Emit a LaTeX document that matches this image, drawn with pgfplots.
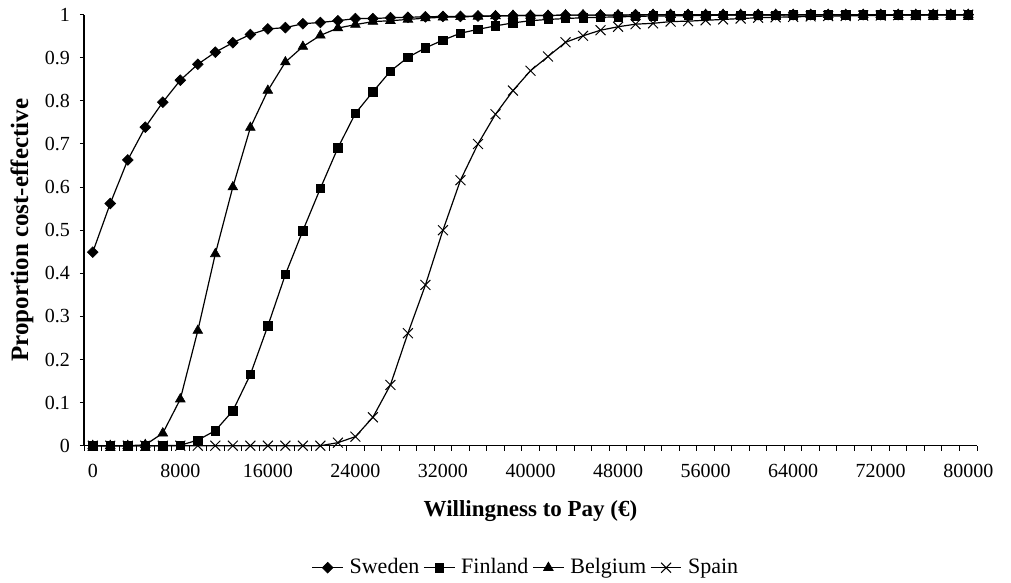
\documentclass[border=0pt]{standalone}
\usepackage{fontspec}
\setmainfont{Liberation Serif}
\usepackage{pgfplots}
\pgfplotsset{compat=1.18}
\usepackage{pgfplotstable}

% Cost-effectiveness acceptability curves, one column per country
\pgfplotstableread{
x sweden finland belgium spain
0 0.449 0 0 0
1600 0.562 0 0 0
3200 0.663 0 0 0
4800 0.739 0 0.002 0
6400 0.797 0 0.029 0
8000 0.848 0.001 0.108 0
9600 0.885 0.013 0.267 0
11200 0.913 0.035 0.445 0
12800 0.935 0.081 0.600 0
14400 0.954 0.165 0.738 0
16000 0.967 0.278 0.824 0
17600 0.970 0.397 0.890 0
19200 0.979 0.499 0.926 0
20800 0.982 0.597 0.952 0
22400 0.986 0.691 0.969 0.007
24000 0.991 0.771 0.977 0.021
25600 0.991 0.821 0.984 0.066
27200 0.993 0.869 0.986 0.141
28800 0.994 0.901 0.989 0.261
30400 0.995 0.923 0.992 0.373
32000 0.996 0.941 0.994 0.500
33600 0.996 0.957 0.995 0.616
35200 0.997 0.966 0.996 0.700
36800 0.997 0.974 0.997 0.769
38400 0.998 0.981 0.998 0.824
40000 0.998 0.986 0.998 0.870
41600 0.998 0.989 0.998 0.903
43200 0.999 0.991 0.999 0.936
44800 0.999 0.993 0.999 0.951
46400 0.999 0.994 0.999 0.964
48000 0.999 0.995 0.999 0.972
49600 1 0.996 0.999 0.978
51200 1 0.997 1 0.980
52800 1 0.997 1 0.984
54400 1 0.998 1 0.985
56000 1 0.998 1 0.987
57600 1 0.999 1 0.989
59200 1 0.999 1 0.991
60800 1 0.999 1 0.993
62400 1 0.999 1 0.994
64000 1 1 1 0.995
65600 1 1 1 0.996
67200 1 1 1 0.997
68800 1 1 1 0.997
70400 1 1 1 0.998
72000 1 1 1 0.998
73600 1 1 1 0.999
75200 1 1 1 0.999
76800 1 1 1 1
78400 1 1 1 1
80000 1 1 1 1
}\ceac

\pgfplotsset{
  swe/.style={black, line width=0.6pt, mark=square*, mark size=1.9pt,
    mark options={solid, rotate=45, line width=0.3pt}},
  fin/.style={black, line width=0.6pt, mark=square*, mark size=2.1pt,
    mark options={solid, line width=0.3pt}},
  bel/.style={black, line width=0.6pt, mark=triangle*, mark size=2.8pt,
    mark options={solid, line width=0.3pt}},
  spa/.style={black, line width=0.6pt, mark=x, mark size=3.5pt,
    mark options={solid, line width=0.5pt}},
}

\begin{document}
\begin{tikzpicture}
\begin{axis}[
  name=ax,
  scale only axis,
  width=446.5pt, height=215.5pt,
  xmin=-800, xmax=80800, ymin=0, ymax=1,
  clip=false,
  axis lines=left,
  axis line style={-, line width=0.6pt},
  tick align=outside,
  major tick length=2pt,
  minor tick length=2.5pt,
  scaled x ticks=false,
  xtick={0,8000,16000,24000,32000,40000,48000,56000,64000,72000,80000},
  xticklabels={0,8000,16000,24000,32000,40000,48000,56000,64000,72000,80000},
  minor xtick={-800,800,...,80800},
  every major x tick/.append style={draw=none},
  ytick={0,0.1,0.2,0.3,0.4,0.5,0.6,0.7,0.8,0.9,1},
  yticklabels={0,0.1,0.2,0.3,0.4,0.5,0.6,0.7,0.8,0.9,1},
  tick style={black, line width=0.5pt},
  tick label style={font=\fontsize{10}{12}\selectfont},
  xticklabel style={yshift=-3.5pt},
  yticklabel style={xshift=-1.5pt},
  xlabel={Willingness to Pay (€)},
  ylabel={Proportion cost-effective},
  label style={font=\fontsize{12.5}{15}\selectfont\bfseries},
  xlabel style={at={(axis description cs:0.5,0)}, anchor=center, yshift=-32.5pt,
    font=\fontsize{11.5}{14}\selectfont\bfseries},
  ylabel style={at={(axis description cs:0,0.5)}, anchor=center, yshift=31pt},
  legend columns=4,
  legend style={draw=none, fill=none, at={(axis description cs:0.496,0)},
    anchor=center, yshift=-61pt, font=\fontsize{11}{14}\selectfont,
    /tikz/every even column/.append style={column sep=0pt},
    /tikz/every odd column/.append style={column sep=1pt}},
  legend image code/.code={%
    \draw[mark repeat=2, mark phase=2] plot coordinates {(0cm,0cm) (0.27cm,0cm) (0.54cm,0cm)};},
]
\addplot[spa, forget plot] table[x=x, y=spain] {\ceac};
\addplot[swe, forget plot] table[x=x, y=sweden] {\ceac};
\addplot[bel, forget plot] table[x=x, y=belgium] {\ceac};
\addplot[fin, forget plot] table[x=x, y=finland] {\ceac};

\addlegendimage{swe}\addlegendentry{Sweden}
\addlegendimage{fin}\addlegendentry{Finland}
\addlegendimage{bel}\addlegendentry{Belgium}
\addlegendimage{spa}\addlegendentry{Spain}
\end{axis}
\pgfresetboundingbox
\path[use as bounding box] (ax.south west) ++(-42pt,-68.65pt) rectangle ++(505.5pt,291.5pt);
\end{tikzpicture}
\end{document}
